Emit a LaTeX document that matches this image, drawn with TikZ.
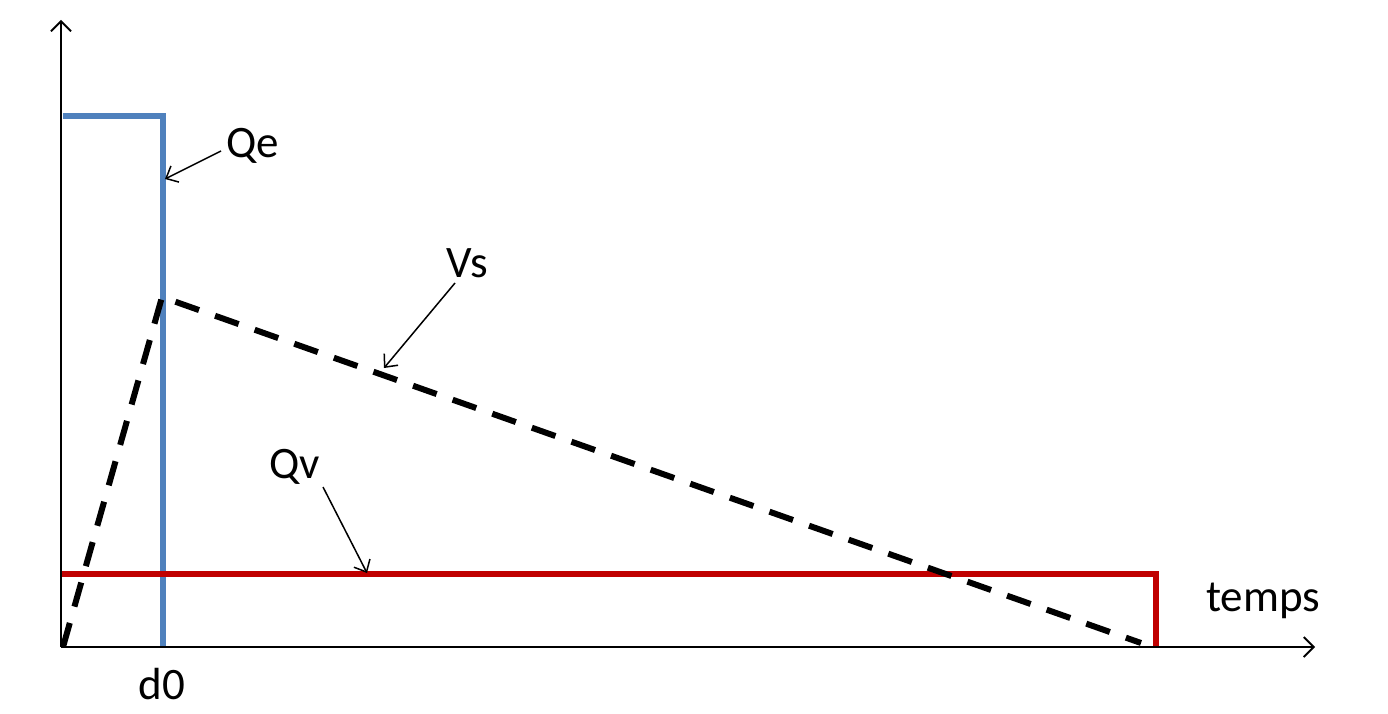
\documentclass[tikz,border=0pt]{standalone}
\usepackage{fontspec}
\setmainfont{Carlito}
\usetikzlibrary{arrows.meta}
\definecolor{qeblue}{RGB}{79,129,189}
\definecolor{qvred}{RGB}{192,0,0}
\begin{document}
\begin{tikzpicture}[x=1pt,y=-1pt,
  axis/.style={line width=1.8pt,-{Straight Barb[length=10pt,width=20pt,line width=1.8pt]}},
  pointer/.style={line width=1.5pt,-{Straight Barb[length=10pt,width=18pt,line width=1.5pt]}},
  lbl/.style={font=\fontsize{45}{52}\selectfont,inner sep=0pt},
  qestyle/.style={qeblue,line width=5.5pt,line join=miter},
  qvstyle/.style={qvred,line width=5.5pt,line join=miter},
  vsstyle/.style={black,line width=6pt,dash pattern=on 25pt off 17pt}]
\useasboundingbox (0,0) rectangle (1388,714);
\fill[white] (0,0) rectangle (1388,714);
% coordinates
\coordinate (O) at (61,647);
\coordinate (ytip) at (61,20);
\coordinate (xtip) at (1315,647);
\coordinate (qe0) at (63,116);
\coordinate (qe1) at (163,116);
\coordinate (qe2) at (163,647);
\coordinate (vs0) at (63,647);
\coordinate (vs1) at (162,297);
\coordinate (vs2) at (1141,643);
\coordinate (qv0) at (60,574);
\coordinate (qv1) at (1156,574);
\coordinate (qv2) at (1156,647);
% curves
\draw[qestyle] (qe0) -- (qe1) -- (qe2);
\draw[qvstyle] (qv0) -- (qv1) -- (qv2);
\draw[vsstyle] (vs0) -- (vs1) -- (vs2);
% axes
\draw[axis] (O) -- (ytip);
\draw[axis] (O) -- (xtip);
% labels
\node[lbl] (Qe) at (253,146) {Qe};
\node[lbl] (Vs) at (467,263) {Vs};
\node[lbl] (Qv) at (295,467) {Qv};
\node[lbl,anchor=base] (temps) at (1263,611) {temps};
\node[lbl] (d0) at (162,684) {d0};
% pointers
\coordinate (qeA) at (221,151);
\coordinate (qeB) at (165,179);
\coordinate (vsA) at (455,283);
\coordinate (vsB) at (384,368);
\coordinate (qvA) at (323,487);
\coordinate (qvB) at (367,573);
\draw[pointer] (qeA) -- (qeB);
\draw[pointer] (vsA) -- (vsB);
\draw[pointer] (qvA) -- (qvB);
\end{tikzpicture}
\end{document}
